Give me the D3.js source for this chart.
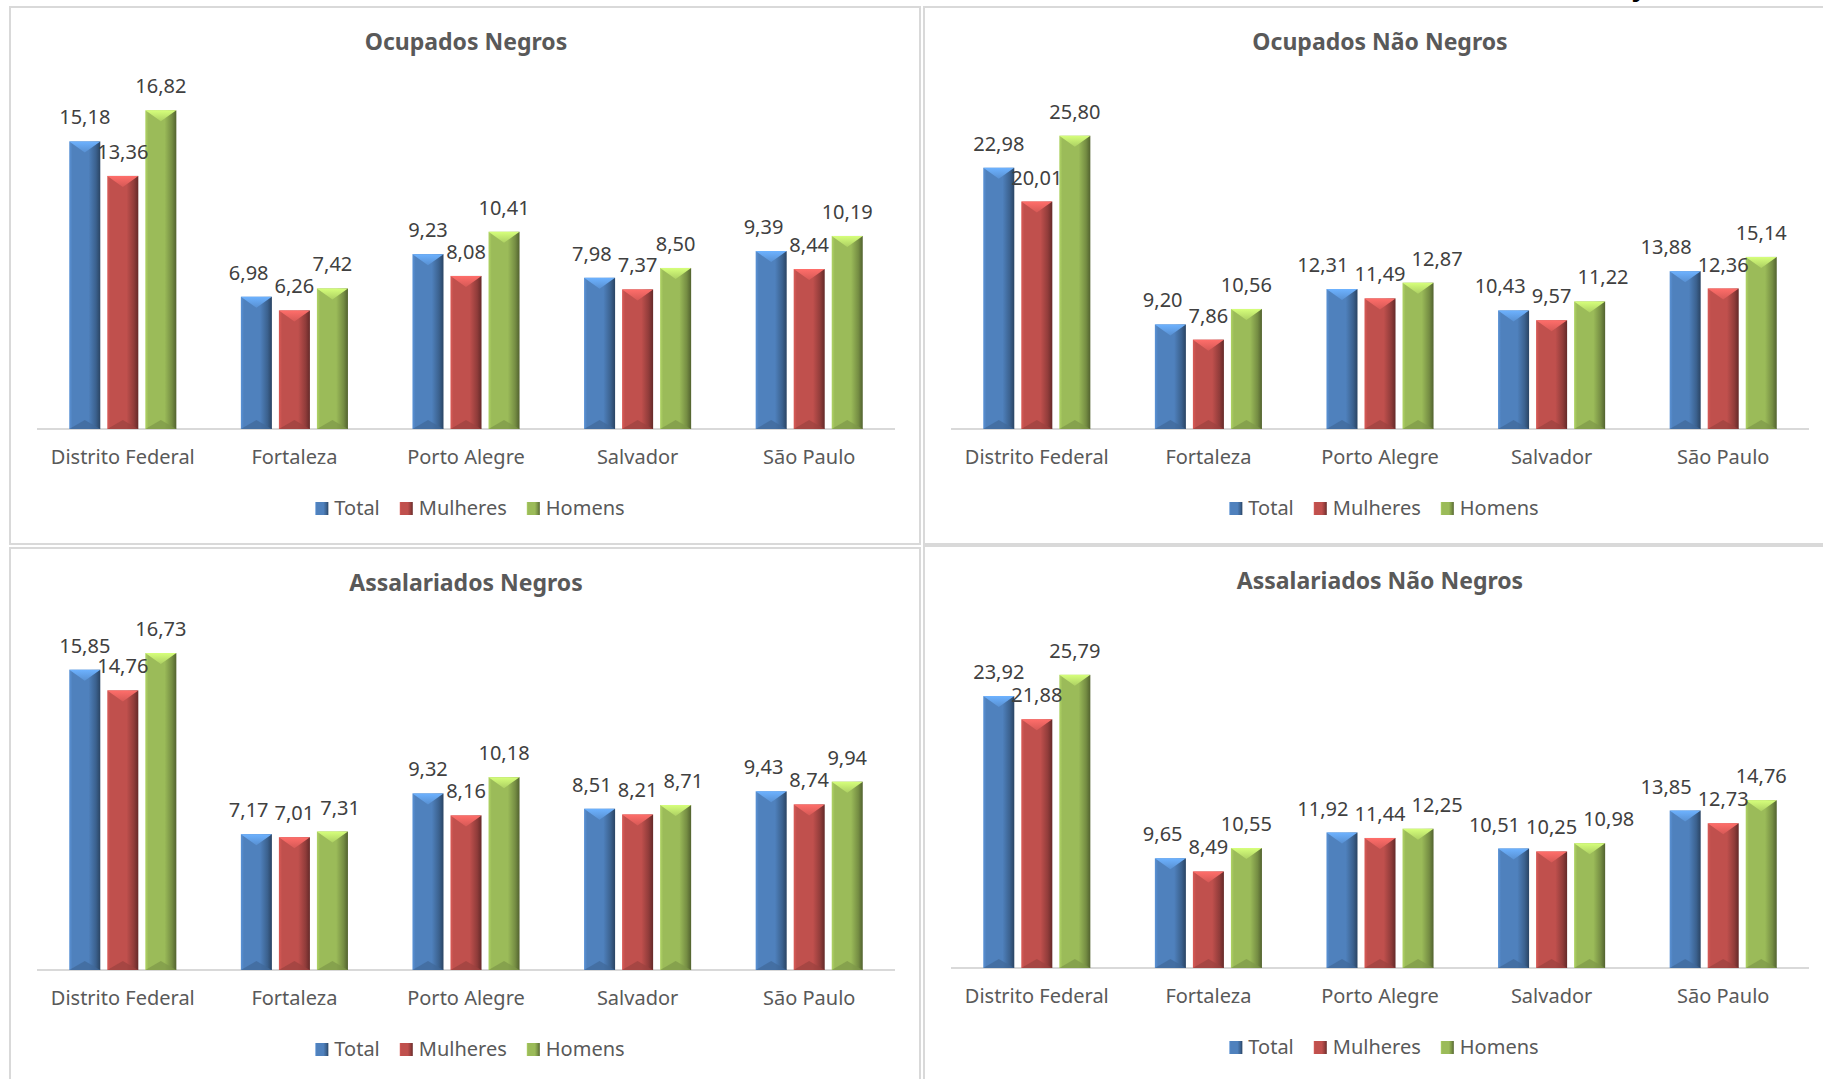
<!DOCTYPE html>
<html>
<head>
<meta charset="utf-8">
<script src="https://cdn.jsdelivr.net/npm/d3@7"></script>
<style>
  body { margin: 0; background: #fff; }
  svg { display: block; font-family: "Noto Sans", "Open Sans", sans-serif; }
</style>
</head>
<body>
<svg id="chart" width="1823" height="1079"></svg>
<script>
// categories and series
var categories = ["Distrito Federal", "Fortaleza", "Porto Alegre", "Salvador", "São Paulo"];
var seriesNames = ["Total", "Mulheres", "Homens"];
var seriesColors = ["#4F81BD", "#C0504D", "#9BBB59"];

// Ocupados Negros
var ocNegTotal = [15.18, 6.98, 9.23, 7.98, 9.39];
var ocNegMulheres = [13.36, 6.26, 8.08, 7.37, 8.44];
var ocNegHomens = [16.82, 7.42, 10.41, 8.50, 10.19];

// Ocupados Não Negros
var ocNaoTotal = [22.98, 9.20, 12.31, 10.43, 13.88];
var ocNaoMulheres = [20.01, 7.86, 11.49, 9.57, 12.36];
var ocNaoHomens = [25.80, 10.56, 12.87, 11.22, 15.14];

// Assalariados Negros
var asNegTotal = [15.85, 7.17, 9.32, 8.51, 9.43];
var asNegMulheres = [14.76, 7.01, 8.16, 8.21, 8.74];
var asNegHomens = [16.73, 7.31, 10.18, 8.71, 9.94];

// Assalariados Não Negros
var asNaoTotal = [23.92, 9.65, 11.92, 10.51, 13.85];
var asNaoMulheres = [21.88, 8.49, 11.44, 10.25, 12.73];
var asNaoHomens = [25.79, 10.55, 12.25, 10.98, 14.76];

var panels = [
  { title: "Ocupados Negros", x: 10, y: 7, max: 18, data: [ocNegTotal, ocNegMulheres, ocNegHomens] },
  { title: "Ocupados Não Negros", x: 924, y: 7, max: 30, data: [ocNaoTotal, ocNaoMulheres, ocNaoHomens] },
  { title: "Assalariados Negros", x: 10, y: 548, max: 18, data: [asNegTotal, asNegMulheres, asNegHomens] },
  { title: "Assalariados Não Negros", x: 924, y: 546, max: 30, data: [asNaoTotal, asNaoMulheres, asNaoHomens] }
];

var svg = d3.select("#chart");
var defs = svg.append("defs");

// Gradients for the bevelled bars
seriesColors.forEach(function (c, i) {
  var base = d3.color(c);
  var g = defs.append("linearGradient")
    .attr("id", "body" + i)
    .attr("x1", "0%").attr("x2", "100%").attr("y1", "0%").attr("y2", "0%");
  g.append("stop").attr("offset", "0%").attr("stop-color", base.brighter(0.35));
  g.append("stop").attr("offset", "10%").attr("stop-color", base);
  g.append("stop").attr("offset", "62%").attr("stop-color", base);
  g.append("stop").attr("offset", "86%").attr("stop-color", base.darker(0.8));
  g.append("stop").attr("offset", "100%").attr("stop-color", base.darker(1.8));

  var t = defs.append("linearGradient")
    .attr("id", "top" + i)
    .attr("x1", "0%").attr("x2", "0%").attr("y1", "0%").attr("y2", "100%");
  t.append("stop").attr("offset", "0%").attr("stop-color", base.brighter(0.9));
  t.append("stop").attr("offset", "100%").attr("stop-color", base.brighter(0.3));
});

var panelW = 910, panelH = 537;

function fmt(v) {
  return v.toFixed(2).replace(".", ",");
}

panels.forEach(function (p) {
  var g = svg.append("g").attr("transform", "translate(" + p.x + "," + p.y + ")");

  g.append("rect")
    .attr("width", panelW)
    .attr("height", panelH)
    .attr("fill", "#fff")
    .attr("stroke", "#d9d9d9")
    .attr("stroke-width", 2);

  var x0 = d3.scaleBand()
    .domain(categories)
    .range([27, 885])
    .paddingInner(0.376)
    .paddingOuter(0.188);

  var x1 = d3.scaleBand()
    .domain(seriesNames)
    .range([0, x0.bandwidth()])
    .paddingInner(0.184);

  var y = d3.scaleLinear().domain([0, p.max]).range([422, 81]);

  g.append("text")
    .attr("x", 456)
    .attr("y", 43)
    .attr("text-anchor", "middle")
    .attr("font-size", "23px")
    .attr("font-weight", "bold")
    .attr("fill", "#595959")
    .text(p.title);

  // baseline
  g.append("line")
    .attr("x1", 27).attr("x2", 885)
    .attr("y1", y(0)).attr("y2", y(0))
    .attr("stroke", "#d9d9d9")
    .attr("stroke-width", 2);

  var rows = [];
  p.data.forEach(function (vals, si) {
    vals.forEach(function (v, ci) {
      rows.push({ cat: categories[ci], ci: ci, s: seriesNames[si], si: si, value: v });
    });
  });

  var bw = x1.bandwidth();
  var bar = g.selectAll("g.bar")
    .data(rows)
    .enter()
    .append("g")
    .attr("class", "bar")
    .attr("transform", function (d) {
      return "translate(" + (x0(d.cat) + x1(d.s)) + ",0)";
    });

  bar.append("rect")
    .attr("y", function (d) { return y(d.value); })
    .attr("width", bw)
    .attr("height", function (d) { return y(0) - y(d.value); })
    .attr("fill", function (d) { return "url(#body" + d.si + ")"; });

  // top chevron highlight
  bar.append("path")
    .attr("d", function (d) {
      var t = y(d.value);
      return "M0," + t + "L" + bw + "," + t + "L" + (bw / 2) + "," + (t + 11) + "Z";
    })
    .attr("fill", function (d) { return "url(#top" + d.si + ")"; });

  // bottom shade
  bar.append("path")
    .attr("d", function (d) {
      var b = y(0);
      return "M0," + b + "L" + bw + "," + b + "L" + (bw / 2) + "," + (b - 9) + "Z";
    })
    .attr("fill", function (d) { return d3.color(seriesColors[d.si]).darker(0.6); })
    .attr("opacity", 0.7);

  // value labels
  var labels = g.selectAll("text.val")
    .data(rows)
    .enter()
    .append("text")
    .attr("class", "val")
    .attr("y", function (d) { return y(d.value) - 17; })
    .attr("text-anchor", "middle")
    .attr("font-size", "20px")
    .attr("fill", "#404040")
    .text(function (d) { return fmt(d.value); });

  // nudge labels sideways when neighbours sit at nearly the same height
  labels.each(function (d) {
    d.w = this.getComputedTextLength();
    d.lx = x0(d.cat) + x1(d.s) + bw / 2;
  });
  categories.forEach(function (c, ci) {
    var grp = rows.filter(function (r) { return r.ci === ci; });
    var t = grp[0], m = grp[1], h = grp[2];
    var gap = 6;
    if (Math.abs(y(t.value) - y(m.value)) < 20.5) {
      var need = (t.w + m.w) / 2 + gap - (m.lx - t.lx);
      if (need > 0) t.lx -= need;
    }
    if (Math.abs(y(h.value) - y(m.value)) < 20.5) {
      var need2 = (h.w + m.w) / 2 + gap - (h.lx - m.lx);
      if (need2 > 0) h.lx += need2;
    }
  });
  labels.attr("x", function (d) { return d.lx; });

  // category axis labels
  g.selectAll("text.cat")
    .data(categories)
    .enter()
    .append("text")
    .attr("class", "cat")
    .attr("x", function (d) { return x0(d) + x0.bandwidth() / 2; })
    .attr("y", 457)
    .attr("text-anchor", "middle")
    .attr("font-size", "20px")
    .attr("fill", "#595959")
    .text(function (d) { return d; });

  // legend
  var legend = g.append("g");
  var lx = 0;
  seriesNames.forEach(function (s, i) {
    var item = legend.append("g").attr("transform", "translate(" + lx + ",0)");
    item.append("rect")
      .attr("x", 0).attr("y", 495)
      .attr("width", 13).attr("height", 13)
      .attr("fill", "url(#body" + i + ")");
    var t = item.append("text")
      .attr("x", 19).attr("y", 508)
      .attr("font-size", "20px")
      .attr("fill", "#595959")
      .text(s);
    lx += 19 + t.node().getComputedTextLength() + 20;
  });
  lx -= 20;
  legend.attr("transform", "translate(" + (460 - lx / 2) + ",0)");
});

// clipped heading fragment at the very top of the page
svg.append("text")
  .attr("x", 1632)
  .attr("y", -4)
  .attr("font-size", "26px")
  .attr("font-weight", "bold")
  .attr("fill", "#000")
  .text("y");
</script>
</body>
</html>
